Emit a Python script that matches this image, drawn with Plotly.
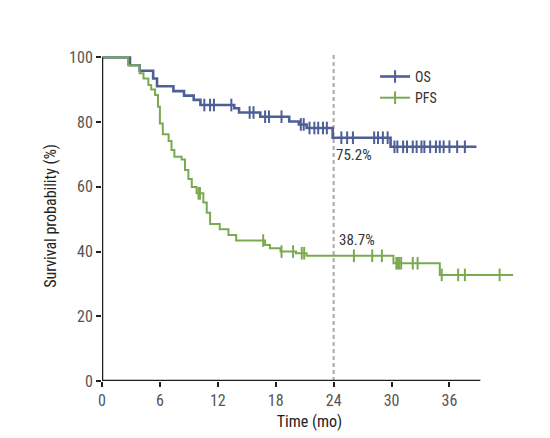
import numpy as np
import plotly.graph_objects as go

# ---- data ----
os_time = [0, 2.9, 3.9, 5.3, 5.7, 7.4, 8.5, 9.5, 10.2, 13.7, 14.2, 16.4, 19.4, 20.4, 21.2, 23.9, 29.9, 38.8]
os_surv = [100, 97.6, 95.9, 93.5, 91.1, 89.6, 88.2, 86.9, 85.3, 84.3, 83.0, 81.7, 80.2, 79.3, 78.2, 75.2, 72.4, 72.4]
os_censor = [10.6, 11.2, 11.6, 13.4, 15.3, 15.7, 16.9, 17.3, 18.6, 20.6, 20.9, 21.5, 22.0, 22.4, 22.9, 23.3,
             24.8, 25.4, 26.0, 28.2, 28.6, 29.1, 29.6, 30.3, 30.6, 31.2, 31.6, 32.2, 32.6, 33.1, 33.4,
             34.0, 34.6, 35.0, 35.4, 36.0, 36.8, 37.6]

pfs_time = [0, 2.7, 3.9, 4.3, 4.8, 5.1, 5.5, 5.8, 6.0, 6.3, 6.9, 7.2, 7.5, 8.25, 8.6, 8.95, 9.3, 9.8,
            10.5, 10.85, 11.2, 12.2, 13.1, 13.9, 16.9, 17.4, 18.5, 20.1, 21.2, 30.2, 35.0, 42.6]
pfs_surv = [100, 97.6, 95.1, 93.5, 91.5, 90.1, 88.4, 84.8, 79.6, 76.3, 74.2, 71.4, 69.3, 68.5, 65.2, 62.4,
            60.0, 58.0, 55.2, 52.0, 48.5, 46.9, 45.1, 43.4, 42.0, 41.0, 40.0, 39.5, 38.7, 36.4, 32.8, 32.8]
pfs_censor = [10.0, 10.15, 16.7, 18.6, 19.8, 20.7, 20.95, 26.1, 28.0, 29.0, 30.5, 30.65, 30.8, 31.0,
              32.2, 32.7, 35.2, 36.9, 37.6, 41.2]

x_ticks = [0, 6, 12, 18, 24, 30, 36]
y_ticks = [0, 20, 40, 60, 80, 100]
landmark = 24
os_label = "75.2%"
pfs_label = "38.7%"

OS_COLOR = "#4e5f97"
PFS_COLOR = "#7aaa50"
FONT = "Liberation Sans Narrow, Roboto Condensed, Arial Narrow, Roboto, sans-serif"


def step_at(times, surv, pts):
    idx = np.searchsorted(np.array(times), np.array(pts), side="right") - 1
    return [surv[i] for i in idx]


fig = go.Figure()

for t, s, c, col, w, name in [
    (os_time, os_surv, os_censor, OS_COLOR, 2.6, "OS"),
    (pfs_time, pfs_surv, pfs_censor, PFS_COLOR, 2.0, "PFS"),
]:
    fig.add_trace(go.Scatter(x=t, y=s, mode="lines", line=dict(color=col, width=w, shape="hv"),
                             showlegend=False, hoverinfo="skip"))
    fig.add_trace(go.Scatter(x=c, y=step_at(t, s, c), mode="markers",
                             marker=dict(symbol="line-ns", size=9, line=dict(color=col, width=2)),
                             showlegend=False, hoverinfo="skip"))
    fig.add_trace(go.Scatter(x=[None], y=[None], mode="lines+markers", name=name,
                             line=dict(color=col, width=w),
                             marker=dict(symbol="line-ns", size=9, line=dict(color=col, width=2))))

# landmark dashed line
fig.add_shape(type="line", x0=landmark, x1=landmark, y0=0, y1=101.5, xref="x", yref="y",
              line=dict(color="#a9a9a9", width=2, dash="4px,3px"), layer="below")
# axis lines
fig.add_shape(type="line", x0=0, x1=0, y0=-0.8, y1=100, xref="x", yref="y",
              line=dict(color="#231f20", width=2.5))
fig.add_shape(type="line", x0=0, x1=39.2, y0=0, y1=0, xref="x", yref="y",
              line=dict(color="#231f20", width=2.5))

fig.add_annotation(x=26.1, y=69.8, text=os_label, showarrow=False,
                   font=dict(family=FONT, size=15, color="#333333"))
fig.add_annotation(x=26.4, y=43.6, text=pfs_label, showarrow=False,
                   font=dict(family=FONT, size=15, color="#333333"))

# page body has an 8px margin, so the figure is shrunk by 8px and margins shifted accordingly
fig.update_layout(
    width=542, height=430,
    margin=dict(l=94, r=33, t=43, b=57),
    paper_bgcolor="white", plot_bgcolor="white",
    font=dict(family=FONT, size=15, color="#444444"),
    legend=dict(x=0.658, y=0.97, xanchor="left", yanchor="top", bgcolor="rgba(0,0,0,0)",
                font=dict(family=FONT, size=14, color="#333333"), tracegroupgap=0),
    xaxis=dict(range=[0, 43], tickvals=x_ticks, ticks="outside", ticklen=5, tickwidth=2,
               tickcolor="#231f20", showgrid=False, zeroline=False, showline=False, automargin=False,
               title=dict(text="Time (mo)", font=dict(size=16, color="#222222"), standoff=6),
               tickfont=dict(size=16, color="#555555")),
    yaxis=dict(range=[0, 102], tickvals=y_ticks, ticks="outside", ticklen=5, tickwidth=2,
               tickcolor="#231f20", showgrid=False, zeroline=False, showline=False, automargin=False,
               title=dict(text="Survival probability (%)", font=dict(size=16, color="#222222"), standoff=8),
               tickfont=dict(size=16, color="#555555")),
)

fig.write_html("out.html")
